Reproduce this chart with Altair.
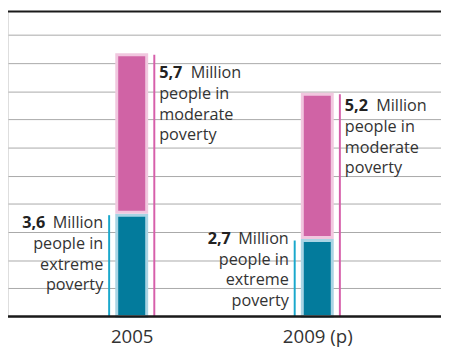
import altair as alt
import pandas as pd

years = ["2005", "2009 (p)"]
extreme = [3.6, 2.7]
moderate = [5.7, 5.2]
extreme_num = ["3,6", "2,7"]
moderate_num = ["5,7", "5,2"]
grid_values = [1, 2, 3, 4, 5, 6, 7, 8, 9, 10]

df = pd.DataFrame({
    "year": years,
    "extreme": extreme,
    "moderate": moderate,
    "ext_num": extreme_num,
    "mod_num": moderate_num,
})
df["total"] = df["extreme"] + df["moderate"]

FONT = "Open Sans"
TXT = "#333333"
W, H = 441, 311

xscale = alt.Scale(type="point", domain=years, padding=0.6667)
yscale = alt.Scale(domain=[0, 10.855], nice=False, zero=True)

xaxis = alt.Axis(title=None, domain=False, ticks=False, grid=False,
                 labelFontSize=19, labelFont=FONT, labelColor=TXT,
                 labelPadding=12, labelAngle=0)
yaxis = alt.Axis(values=grid_values, grid=True, gridColor="#a8a8a8",
                 gridWidth=1, labels=False, ticks=False, domain=False,
                 title=None)

Xn = alt.X("year:N", scale=xscale, axis=xaxis)


def Yq(field):
    return alt.Y(field, type="quantitative", scale=yscale, axis=yaxis)


base = alt.Chart(df)

bar_ext = base.mark_bar(size=30.5, color="#037b9c", stroke="#a9d4e4",
                        strokeWidth=3).encode(
    x=Xn, y=Yq("extreme"), y2=alt.Y2(datum=0),
)

bar_mod = base.mark_bar(size=30.5, color="#d063a5", stroke="#f1c7df",
                        strokeWidth=3, y2Offset=-3).encode(
    x=Xn, y=Yq("total"), y2="extreme:Q",
)

rule_ext = base.mark_rule(color="#1aa8cc", strokeWidth=2, xOffset=-23).encode(
    x=Xn, y=Yq("extreme"), y2=alt.Y2(datum=0),
)
rule_mod = base.mark_rule(color="#d65faa", strokeWidth=2, xOffset=23).encode(
    x=Xn, y=Yq("total"), y2=alt.Y2(datum=0),
)

layers = [bar_ext, bar_mod, rule_ext, rule_mod]

LH = 21
ext_dy = {"2005": 13.5, "2009 (p)": 3.5}
mod_dy = {"2005": 24, "2009 (p)": 17.5}

for yr in years:
    sub = base.transform_filter(alt.datum.year == yr)
    layers.append(sub.mark_text(align="right", baseline="alphabetic", dx=-88,
                                dy=ext_dy[yr], font=FONT, fontSize=16.5,
                                fontWeight="bold", color="#222222").encode(
        x=Xn, y=Yq("extreme"), text="ext_num:N"))
    layers.append(sub.mark_text(align="right", baseline="alphabetic", dx=-29,
                                dy=ext_dy[yr], font=FONT, fontSize=16.5,
                                lineHeight=LH, lineBreak="\n", color=TXT).encode(
        x=Xn, y=Yq("extreme"),
        text=alt.value("Million\npeople in\nextreme\npoverty")))
    layers.append(sub.mark_text(align="left", baseline="alphabetic", dx=28,
                                dy=mod_dy[yr], font=FONT, fontSize=16.5,
                                fontWeight="bold", color="#222222").encode(
        x=Xn, y=Yq("total"), text="mod_num:N"))
    layers.append(sub.mark_text(align="left", baseline="alphabetic", dx=60,
                                dy=mod_dy[yr], font=FONT, fontSize=16.5,
                                color=TXT).encode(
        x=Xn, y=Yq("total"),
        text=alt.value("Million")))
    layers.append(sub.mark_text(align="left", baseline="alphabetic", dx=28,
                                dy=mod_dy[yr] + LH, font=FONT, fontSize=16.5,
                                lineHeight=LH, lineBreak="\n", color=TXT).encode(
        x=Xn, y=Yq("total"),
        text=alt.value("people in\nmoderate\npoverty")))

frame = pd.DataFrame({"v": [0]})
top_rule = alt.Chart(frame).mark_rule(color="#1a1a1a", strokeWidth=2).encode(
    x=alt.value(0), x2=alt.value(W), y=alt.value(0.5))
base_rule = alt.Chart(frame).mark_rule(color="#1a1a1a", strokeWidth=2.5).encode(
    x=alt.value(0), x2=alt.value(W), y=alt.YDatum(0, scale=yscale, axis=yaxis))
layers += [top_rule, base_rule]

chart = alt.layer(*layers).properties(
    width=W, height=H,
    autosize="none",
    padding={"left": 0, "top": 0, "right": 0, "bottom": 31},
).configure_view(stroke=None).configure(font=FONT)

chart.save("out.html", embed_options={"renderer": "svg", "actions": False})
